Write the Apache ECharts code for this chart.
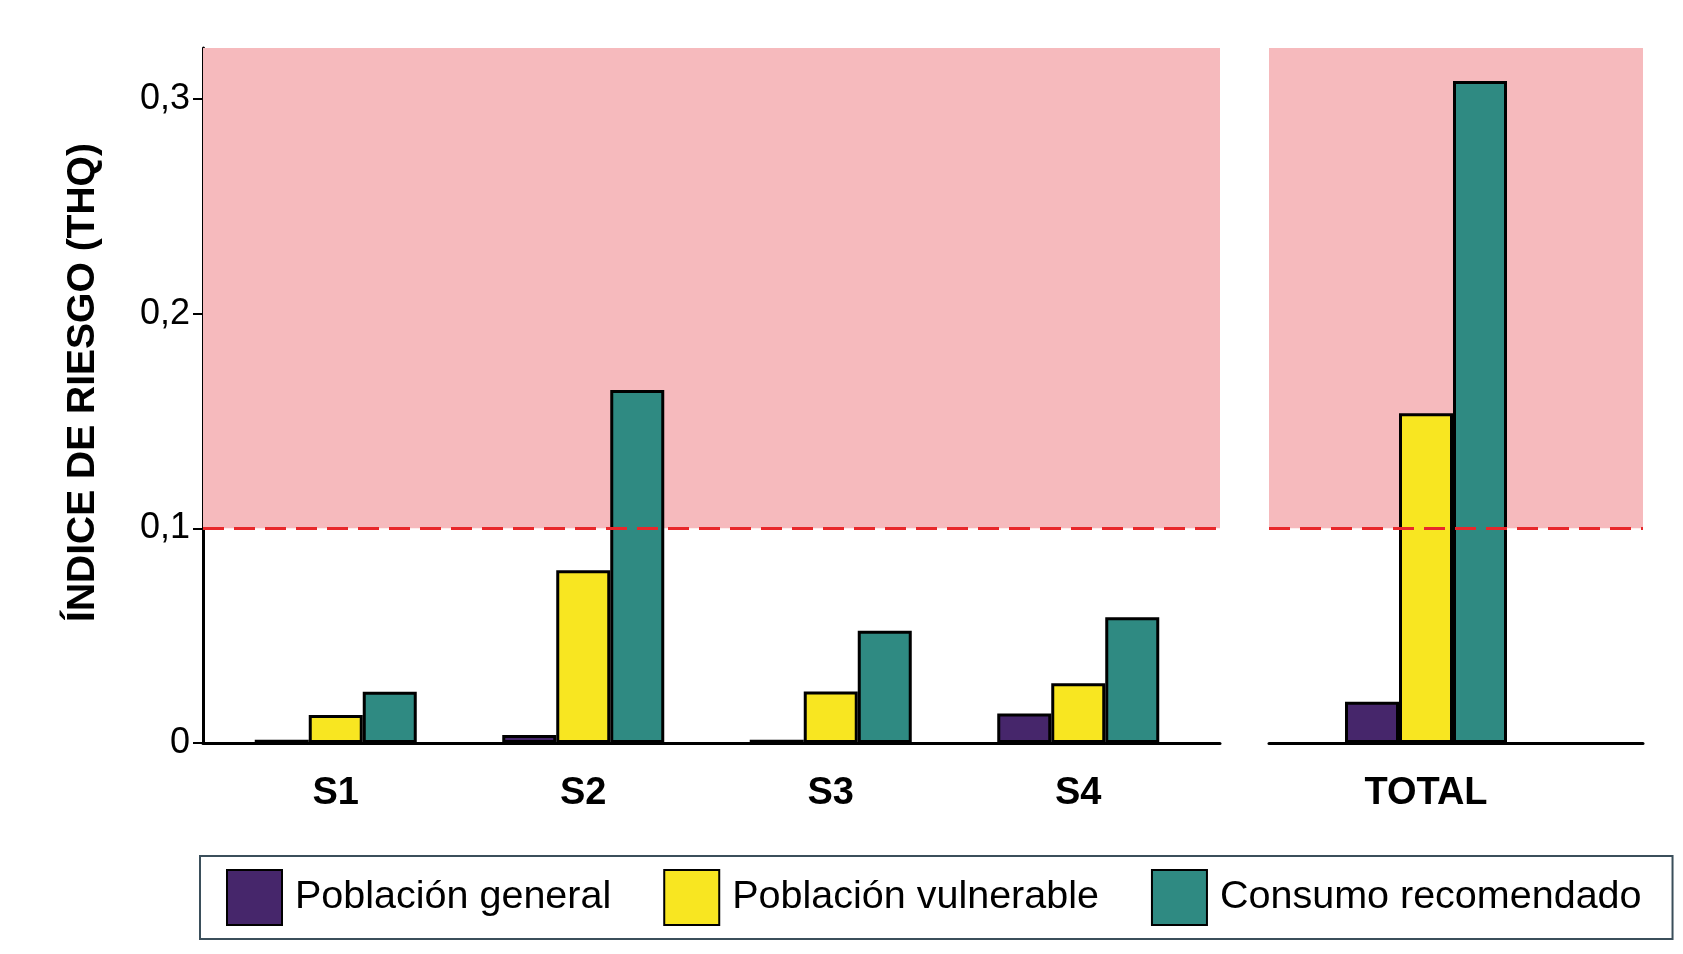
<!DOCTYPE html>
<html><head><meta charset="utf-8">
<script src="https://cdn.jsdelivr.net/npm/echarts@6/dist/echarts.min.js"></script>
<style>html,body{margin:0;padding:0;background:#fff}#c{width:1683px;height:954px}</style>
</head><body><div id="c"></div>
<script>
const sites = ['S1', 'S2', 'S3', 'S4'];
const totalCat = ['TOTAL'];
const seriesNames = ['Población general', 'Población vulnerable', 'Consumo recomendado'];
const generalSites = [0.0015, 0.0037, 0.0015, 0.0138];
const vulnerableSites = [0.0130, 0.0805, 0.0240, 0.0278];
const recomendadoSites = [0.0239, 0.1645, 0.0523, 0.0586];
const generalTotal = [0.0192];
const vulnerableTotal = [0.1536];
const recomendadoTotal = [0.3084];
const yTicks = [0, 0.1, 0.2, 0.3];
const yMax = 0.3238;
const threshold = 0.1;
const colors = ['#46266b', '#f8e621', '#2f8a82'];

const chart = echarts.init(document.getElementById('c'));
const FONT = "'Liberation Sans', Arial, sans-serif";

function bgSeries(idx) {
  return [{
    type: 'line', xAxisIndex: idx, yAxisIndex: idx, data: [[0, 0], [1, 0]],
    symbol: 'none', lineStyle: { opacity: 0 }, silent: true, z: 1,
    markArea: { silent: true, itemStyle: { color: '#f6babd' },
      data: [[{ xAxis: 0, yAxis: threshold }, { xAxis: 1, yAxis: yMax }]] }
  }, {
    type: 'line', xAxisIndex: idx, yAxisIndex: idx, data: [[0, 0], [1, 0]],
    symbol: 'none', lineStyle: { opacity: 0 }, silent: true, z: 10,
    markLine: { silent: true, symbol: ['none', 'none'], label: { show: false },
      lineStyle: { color: '#e8282b', width: 3, type: [21, 10] },
      data: [{ yAxis: threshold }] }
  }];
}

const siteVals = [generalSites, vulnerableSites, recomendadoSites];
const totalVals = [generalTotal, vulnerableTotal, recomendadoTotal];
function barSeries(idx, vals) {
  return seriesNames.map((n, i) => ({
    name: n, type: 'bar', xAxisIndex: idx, yAxisIndex: idx, data: vals[i],
    barWidth: 54, barGap: '0%', z: 3,
    itemStyle: { color: colors[i], borderColor: '#000', borderWidth: 3 }
  }));
}

const valueX = () => ({ type: 'value', min: 0, max: 1, show: true,
  axisLine: { show: true, onZero: false, lineStyle: { color: '#000', width: 3 } },
  axisTick: { show: false }, axisLabel: { show: false }, splitLine: { show: false } });
const hiddenY = (idx) => ({ type: 'value', gridIndex: idx, min: 0, max: yMax, show: false });
const catX = (idx, data) => ({ type: 'category', gridIndex: idx, data: data,
  axisLine: { show: false }, axisTick: { show: false },
  axisLabel: { fontSize: 38, fontWeight: 'bold', color: '#000', margin: 32, fontFamily: FONT } });

chart.setOption({
  animation: false,
  textStyle: { fontFamily: FONT },
  grid: [
    { left: 203, right: 463, top: 48, bottom: 211 },
    { left: 212, right: 481, top: 48, bottom: 211 },
    { left: 1269, right: 40, top: 48, bottom: 211 },
    { left: 1302, right: 133, top: 48, bottom: 211 }
  ],
  xAxis: [
    Object.assign(valueX(), { gridIndex: 0 }),
    catX(1, sites),
    Object.assign(valueX(), { gridIndex: 2 }),
    catX(3, totalCat)
  ],
  yAxis: [
    { type: 'value', gridIndex: 0, min: 0, max: yMax,
      name: 'ÍNDICE DE RIESGO (THQ)', nameLocation: 'middle', nameGap: 100,
      nameTextStyle: { fontSize: 39, fontWeight: 'bold', color: '#000', padding: [0, 0, 0, 26] },
      axisLine: { show: true, lineStyle: { color: '#000', width: 3 } },
      axisTick: { show: true, length: 10, lineStyle: { color: '#000', width: 2 }, customValues: yTicks },
      axisLabel: { customValues: yTicks, fontSize: 36, color: '#000', margin: 13,
        formatter: v => (v === 0 ? '0' : String(+v.toFixed(1)).replace('.', ',')) },
      splitLine: { show: false } },
    hiddenY(1),
    { type: 'value', gridIndex: 2, min: 0, max: yMax, axisLine: { show: false },
      axisTick: { show: false }, axisLabel: { show: false }, splitLine: { show: false } },
    hiddenY(3)
  ],
  legend: {
    data: seriesNames, left: 200, top: 856, width: 1450, orient: 'horizontal',
    icon: 'rect',
    itemWidth: 55, itemHeight: 55, itemGap: 52,
    padding: [13, 31, 13, 26],
    borderColor: '#3b4f5b', borderWidth: 2,
    textStyle: { fontSize: 39.5, color: '#000', padding: [0, 0, 0, 8] },
    selectedMode: false
  },
  series: [].concat(bgSeries(0), bgSeries(2), barSeries(1, siteVals), barSeries(3, totalVals))
});
</script></body></html>
